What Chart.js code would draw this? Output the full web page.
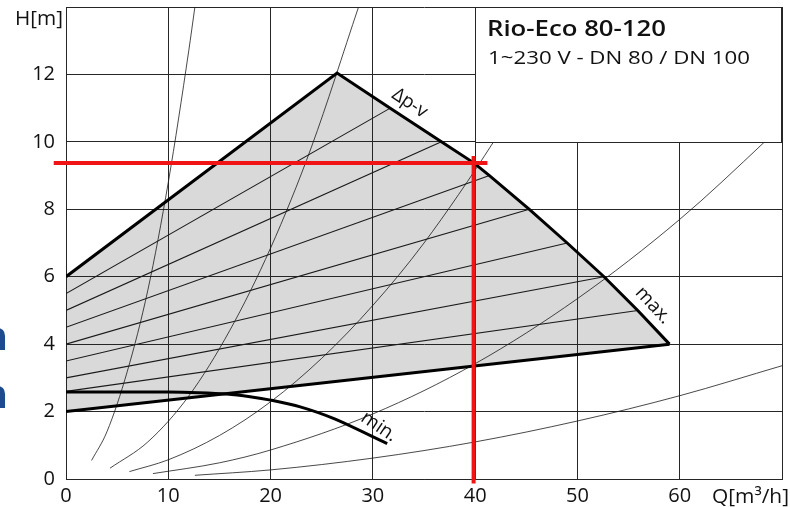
<!DOCTYPE html>
<html>
<head>
<meta charset="utf-8">
<script src="https://cdn.jsdelivr.net/npm/chart.js@4/dist/chart.umd.min.js"></script>
<style>
  html, body { margin: 0; padding: 0; background: #fff; }
  #wrap { width: 790px; height: 507px; position: relative; }
</style>
</head>
<body>
<div id="wrap"><canvas id="c" width="790" height="507"></canvas></div>
<script>
// Axis ranges and tick labels
const qRange = [0, 70];
const hRange = [0, 14];
const qTickStep = 10;
const hTickStep = 2;

// Working range of the pump, [Q m³/h, H m]
const rampEdge = [[0, 6.0], [26.5, 12.04]];
const dpvMaxCurve = [[26.5, 12.04], [31.7, 11.0], [36.7, 10.0], [39.9, 9.37], [41.4, 9.0],
                     [45.3, 8.0], [49.0, 7.0], [52.6, 6.0], [55.9, 5.0], [59.0, 4.0]];
const floorLine = [[0, 2.0], [59.0, 4.0]];
const minCurve = [[0, 2.58], [10, 2.58], [13, 2.56], [15.7, 2.52], [18, 2.44], [20, 2.34],
                  [22.9, 2.14], [26.2, 1.79], [31.4, 1.05]];

// Intermediate speed settings
const speed1 = [[0, 5.5], [31.7, 11.0]];
const speed2 = [[0, 5.0], [36.7, 10.0]];
const speed3 = [[0, 4.5], [41.4, 9.0]];
const speed4 = [[0, 4.0], [45.3, 8.0]];
const speed5 = [[0, 3.5], [49.0, 7.0]];
const speed6 = [[0, 3.0], [52.6, 6.0]];
const speed7 = [[0, 2.6], [55.9, 5.0]];

// System curves
const system1 = [[2.5, 0.55], [4, 1.4], [6, 3.2], [8, 5.6], [10, 8.8], [12, 12.7], [12.6, 14.0]];
const system2 = [[4.3, 0.32], [8, 1.1], [12, 2.46], [16, 4.4], [20, 6.85], [24, 9.85], [28.6, 14.0]];
const system3 = [[6.2, 0.22], [10, 0.57], [15, 1.29], [20, 2.29], [25, 3.58], [30, 5.15], [35, 7.0], [41.8, 10.0], [45, 11.6]];
const system4 = [[8.5, 0.16], [15, 0.48], [20, 0.86], [30, 1.93], [40, 3.42], [50, 5.35], [60, 7.7], [68.3, 10.0], [70, 10.5]];
const system5 = [[12.6, 0.11], [20, 0.27], [30, 0.62], [40, 1.1], [50, 1.72], [60, 2.47], [70, 3.36]];

// Duty point marker
const dutyH = [[-1.2, 9.37], [41.2, 9.37]];
const dutyV = [[39.85, 9.58], [39.85, -0.13]];

const pts = a => a.map(([x, y]) => ({ x, y }));
const area = [[0, 2.0]].concat(rampEdge, dpvMaxCurve.slice(1), [[0, 2.0]]);

const FONT = '"Open Sans", "DejaVu Sans", sans-serif';
const GRID = '#262626';

function thin(data, w) {
  return { data: pts(data), borderColor: '#1a1a1a', borderWidth: w, fill: false, showLine: true,
           pointRadius: 0, cubicInterpolationMode: 'monotone' };
}
function thick(data) {
  return { data: pts(data), borderColor: '#000', borderWidth: 3, fill: false, showLine: true,
           pointRadius: 0, tension: 0, borderJoinStyle: 'miter' };
}

function fitText(ctx, txt, x, y, w) {
  const m = ctx.measureText(txt).width;
  ctx.save();
  ctx.translate(x, y);
  ctx.scale(w / m, 1);
  ctx.fillText(txt, 0, 0);
  ctx.restore();
}

const overlay = {
  id: 'overlay',
  afterDatasetsDraw(chart) {
    const { ctx, scales: { x, y } } = chart;
    // title box in the upper right corner
    const bx0 = Math.round(x.getPixelForValue(40)), bx1 = Math.round(x.getPixelForValue(70));
    const by0 = Math.round(y.getPixelForValue(14)), by1 = Math.round(y.getPixelForValue(10));
    ctx.save();
    ctx.fillStyle = '#fff';
    ctx.fillRect(bx0, by0, bx1 - bx0, by1 - by0);
    ctx.strokeStyle = GRID;
    ctx.lineWidth = 1;
    ctx.strokeRect(bx0 + 0.5, by0 + 0.5, bx1 - bx0 - 1, by1 - by0);
    ctx.fillStyle = '#111';
    ctx.textBaseline = 'alphabetic';
    ctx.textAlign = 'left';
    ctx.font = '600 22px ' + FONT;
    fitText(ctx, 'Rio-Eco 80-120', bx0 + 12, by0 + 29, 179);
    ctx.font = '400 19px ' + FONT;
    fitText(ctx, '1~230 V - DN 80 / DN 100', bx0 + 13, by0 + 57, 262);

    // curve labels
    const label = (txt, q, h, deg) => {
      ctx.save();
      ctx.translate(x.getPixelForValue(q), y.getPixelForValue(h));
      ctx.rotate(deg * Math.PI / 180);
      ctx.font = '400 19px ' + FONT;
      ctx.textAlign = 'center';
      ctx.textBaseline = 'middle';
      ctx.fillStyle = '#111';
      ctx.fillText(txt, 0, 0);
      ctx.restore();
    };
    label('\u0394p-v', 33.6, 11.15, 34);
    label('max.', 57.4, 5.15, 47);
    label('min.', 30.6, 1.55, 34);

    // axis titles
    ctx.fillStyle = '#111';
    ctx.font = '400 20px ' + FONT;
    ctx.textAlign = 'left';
    ctx.textBaseline = 'alphabetic';
    fitText(ctx, 'H[m]', 15, 25, 48);
    fitText(ctx, 'Q[m\u00B3/h]', 712, 503, 77);

    // lettering at the left edge
    ctx.fillStyle = '#1d4b8f';
    ctx.font = '700 40px ' + FONT;
    ctx.textAlign = 'right';
    ctx.fillText('n', 8, 350);
    ctx.fillText('n', 8, 408);
    ctx.restore();
  }
};

new Chart(document.getElementById('c'), {
  type: 'scatter',
  data: {
    datasets: [
      { data: pts(dutyH), borderColor: '#f01414', borderWidth: 4, showLine: true, pointRadius: 0, clip: false, fill: false },
      { data: pts(dutyV), borderColor: '#f01414', borderWidth: 4, showLine: true, pointRadius: 0, clip: false, fill: false },
      thick(rampEdge.concat(dpvMaxCurve.slice(1))),
      thick(floorLine),
      Object.assign(thick(minCurve), { tension: 0.3 }),
      thin(speed1, 1.1),
      thin(speed2, 1.1),
      thin(speed3, 1.1),
      thin(speed4, 1.1),
      thin(speed5, 1.1),
      thin(speed6, 1.1),
      thin(speed7, 1.1),
      thin(system1, 0.8),
      thin(system2, 0.8),
      thin(system3, 0.8),
      thin(system4, 0.8),
      thin(system5, 0.8),
      { data: pts(area), showLine: true, borderWidth: 0, borderColor: 'rgba(0,0,0,0)',
        backgroundColor: '#d9d9d9', fill: 'shape', pointRadius: 0, tension: 0 }
    ]
  },
  options: {
    responsive: false,
    animation: false,
    devicePixelRatio: 1,
    layout: { padding: { top: 7, right: 8, left: 0, bottom: 0 } },
    plugins: {
      legend: { display: false },
      tooltip: { enabled: false },
      filler: { drawTime: 'beforeDraw' }
    },
    scales: {
      x: {
        type: 'linear', min: qRange[0], max: qRange[1],
        afterFit: s => { s.height = 28; s.paddingLeft = 0; s.paddingRight = 0; },
        grid: { color: GRID, lineWidth: 1, drawTicks: false },
        border: { color: GRID, width: 1 },
        ticks: { stepSize: qTickStep, padding: 5, maxRotation: 0, color: '#111',
                 font: { family: FONT, size: 20 },
                 callback: v => (v === qRange[1] ? '' : String(v)) }
      },
      y: {
        type: 'linear', min: hRange[0], max: hRange[1],
        afterFit: s => { s.width = 66; s.paddingTop = 0; s.paddingBottom = 0; },
        grid: { color: GRID, lineWidth: 1, drawTicks: false },
        border: { color: GRID, width: 1 },
        ticks: { stepSize: hTickStep, padding: 11, color: '#111',
                 font: { family: FONT, size: 20 },
                 callback: v => (v === hRange[1] ? '' : String(v)) }
      }
    }
  },
  plugins: [overlay]
});
</script>
</body>
</html>
